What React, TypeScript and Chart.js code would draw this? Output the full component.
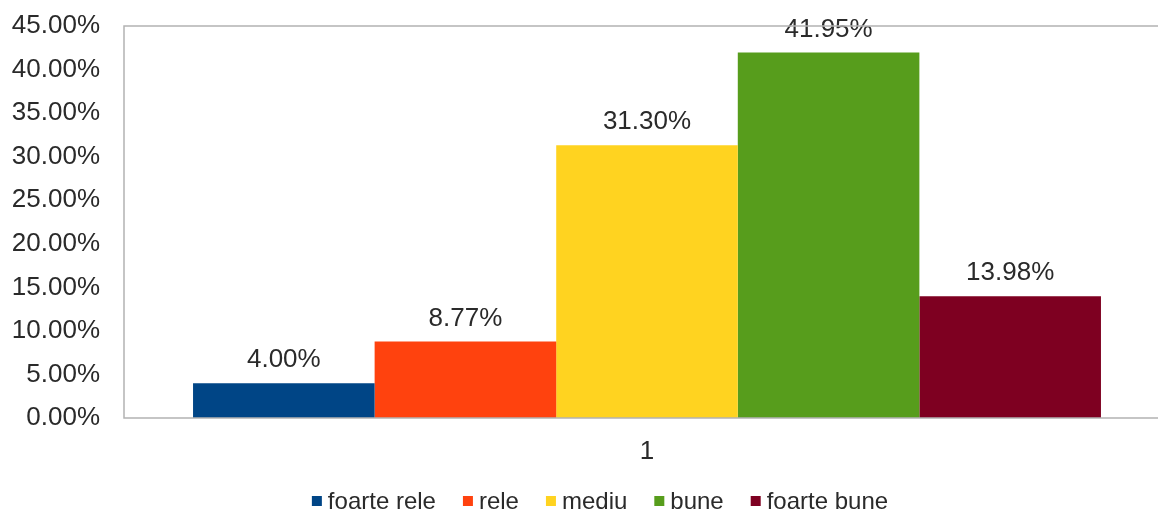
import React, { useEffect, useRef } from "react";
import { Chart, registerables } from "chart.js";

Chart.register(...registerables);

const categories = ["1"];
const seriesNames = ["foarte rele", "rele", "mediu", "bune", "foarte bune"];
const seriesValues = [4.0, 8.77, 31.3, 41.95, 13.98];
const seriesColors = ["#004586", "#ff420e", "#ffd320", "#579d1c", "#7e0021"];
const yTicks = [0, 5, 10, 15, 20, 25, 30, 35, 40, 45];

const FONT = "'Liberation Sans', Arial, sans-serif";
const AXIS_COLOR = "#b3b3b3";
const TEXT_COLOR = "#2a2a2a";

const framePlugin = {
  id: "frame",
  afterDraw(chart: any) {
    const { ctx, chartArea } = chart;
    ctx.save();
    ctx.strokeStyle = AXIS_COLOR;
    ctx.lineWidth = 1.5;
    ctx.beginPath();
    ctx.moveTo(chartArea.right + 20, chartArea.top);
    ctx.lineTo(chartArea.left, chartArea.top);
    ctx.lineTo(chartArea.left, chartArea.bottom);
    ctx.lineTo(chartArea.right + 20, chartArea.bottom);
    ctx.stroke();
    ctx.restore();
  },
};

const valueLabelPlugin = {
  id: "valueLabels",
  afterDatasetsDraw(chart: any) {
    const { ctx } = chart;
    ctx.save();
    ctx.font = `26px ${FONT}`;
    ctx.fillStyle = TEXT_COLOR;
    ctx.textAlign = "center";
    ctx.textBaseline = "alphabetic";
    chart.data.datasets.forEach((ds: any, i: number) => {
      const meta = chart.getDatasetMeta(i);
      meta.data.forEach((bar: any, j: number) => {
        const v = ds.data[j];
        ctx.fillText(v.toFixed(2) + "%", bar.x, bar.y - 16);
      });
    });
    ctx.restore();
  },
};

const legendPlugin = {
  id: "customLegend",
  afterDraw(chart: any) {
    const { ctx } = chart;
    ctx.save();
    ctx.font = `24px ${FONT}`;
    ctx.textBaseline = "middle";
    ctx.textAlign = "left";
    const box = 10;
    const gap = 6;
    const spacing = 27;
    const ds = chart.data.datasets;
    const widths = ds.map((d: any) => box + gap + ctx.measureText(d.label).width);
    const total = widths.reduce((a: number, b: number) => a + b, 0) + spacing * (ds.length - 1);
    let x = 600 - total / 2;
    const y = 501;
    ds.forEach((d: any, i: number) => {
      ctx.fillStyle = d.backgroundColor;
      ctx.fillRect(x, y - box / 2, box, box);
      ctx.fillStyle = TEXT_COLOR;
      ctx.fillText(d.label, x + box + gap, y + 1);
      x += widths[i] + spacing;
    });
    ctx.restore();
  },
};

export default function App() {
  const ref = useRef<HTMLCanvasElement>(null);
  useEffect(() => {
    if (!ref.current) return;
    const chart: any = new Chart(ref.current, {
      type: "bar",
      data: {
        labels: categories,
        datasets: seriesNames.map((name, i) => ({
          label: name,
          data: [seriesValues[i]],
          backgroundColor: seriesColors[i],
          borderWidth: 0,
          barPercentage: 1,
          categoryPercentage: 0.868,
        })),
      },
      options: {
        responsive: false,
        animation: false,
        devicePixelRatio: 1,
        layout: { padding: { top: 26, right: 10, bottom: 44, left: 0 } },
        plugins: {
          legend: { display: false },
          tooltip: { enabled: false },
        },
        scales: {
          x: {
            grid: { display: false, drawTicks: false },
            border: { display: false },
            ticks: { font: { family: FONT, size: 26 }, color: TEXT_COLOR, padding: 18 },
            afterFit(scale: any) {
              scale.height = 50;
            },
          },
          y: {
            min: 0,
            max: 45,
            afterBuildTicks(scale: any) {
              scale.ticks = yTicks.map((v) => ({ value: v }));
            },
            grid: { display: false, drawTicks: false },
            border: { display: false },
            ticks: {
              font: { family: FONT, size: 26, lineHeight: 0.4 },
              color: TEXT_COLOR,
              padding: 24,
              callback: (v: any) => Number(v).toFixed(2) + "%",
            },
            afterFit(scale: any) {
              scale.width = 124;
              scale.paddingTop = 0;
              scale.paddingBottom = 0;
            },
          },
        },
      },
      plugins: [framePlugin, valueLabelPlugin, legendPlugin],
    });
    return () => chart.destroy();
  }, []);
  return (
    <div style={{ position: "fixed", left: 0, top: 0, width: 1158, height: 512, overflow: "hidden", background: "#fff" }}>
      <canvas ref={ref} width={1180} height={512} style={{ display: "block" }} />
    </div>
  );
}
